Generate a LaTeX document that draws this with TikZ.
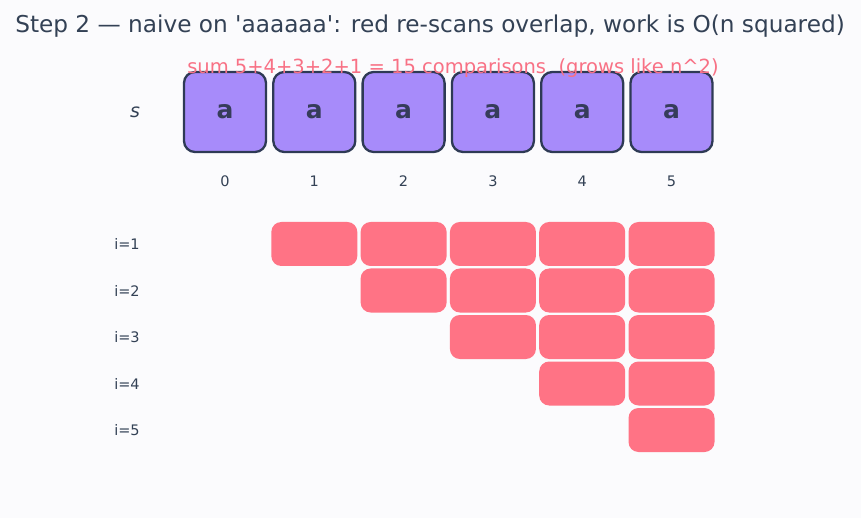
\documentclass[tikz,border=0pt]{standalone}
\usepackage{fontspec}
\setmainfont{DejaVu Sans}
\begin{document}
\begin{tikzpicture}[x=1pt,y=-1pt,
  title/.style={text=titlecol,font=\fontsize{23.2}{27}\selectfont},
  note/.style={text=notecol,font=\fontsize{19.5}{23}\selectfont},
  cell/.style={draw=cellborder,line width=2.3pt,fill=cellfill,rounded corners=11pt,
    minimum width=82pt,minimum height=80pt,inner sep=0pt,
    text=letter,font=\bfseries\fontsize{25}{29}\selectfont},
  idx/.style={text=titlecol,font=\fontsize{14.5}{17}\selectfont},
  rowlab/.style={text=titlecol,font=\fontsize{14.5}{17}\selectfont},
  scan/.style={fill=scanred,rounded corners=10pt,minimum width=86pt,minimum height=44pt,inner sep=0pt}]
\definecolor{bg}{HTML}{FBFBFD}
\definecolor{titlecol}{HTML}{334155}
\definecolor{notecol}{HTML}{F87185}
\definecolor{cellfill}{HTML}{A78BFA}
\definecolor{cellborder}{HTML}{2E3A55}
\definecolor{letter}{HTML}{363C5A}
\definecolor{scanred}{HTML}{FF7385}
\fill[bg] (0,0) rectangle (861,518);
\useasboundingbox (0,0) rectangle (861,518);

\node[title] (title) at (430,26) {Step 2 — naive on \textquotesingle aaaaaa\textquotesingle: red re-scans overlap, work is O(n squared)};

% string cells with their indices
\node[text=titlecol,font=\itshape\fontsize{19}{22}\selectfont] (slab) at (135,112) {s};
\foreach \k in {0,...,5}{
  \node[cell] (c\k) at ({225+89.3*\k},112) {a};
  \node[idx] (n\k) at ({225+89.3*\k},181) {\k};
}
\node[note] (sum) at (453,68) {sum 5+4+3+2+1 = 15 comparisons\ \ (grows like n\textasciicircum2)};

% red re-scans: row i covers positions i..5
\foreach \i in {1,...,5}{
  \node[rowlab] (r\i) at (127,{244+46.5*(\i-1)}) {i=\i};
  \foreach \k in {\i,...,5}{
    \node[scan] (b\i\k) at ({225+89.3*\k},{244+46.5*(\i-1)}) {};
  }
}
\end{tikzpicture}
\end{document}
